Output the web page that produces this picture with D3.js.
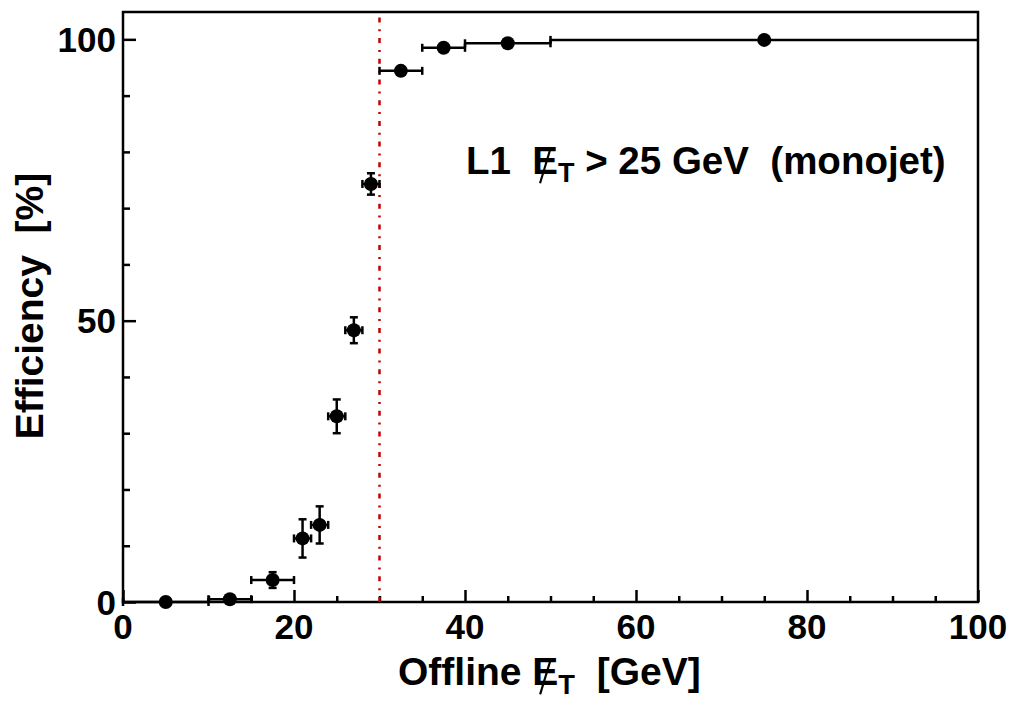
<!DOCTYPE html>
<html>
<head>
<meta charset="utf-8">
<script src="https://cdn.jsdelivr.net/npm/d3@7"></script>
<style>
  html, body { margin: 0; padding: 0; background: #fff; }
  svg { display: block; }
  text { font-family: "Liberation Sans", Arial, sans-serif; font-weight: bold; fill: #000; white-space: pre; }
</style>
</head>
<body>
<svg id="chart" width="1016" height="703"></svg>
<script>
// ---- data ----
const ptX      = [5, 12.5, 17.5, 21, 23, 25, 27, 29, 32.5, 37.5, 45, 75];
const ptXErr   = [5, 2.5, 2.5, 1, 1, 1, 1, 1, 2.5, 2.5, 5, 25];
const ptEff    = [0, 0.5, 3.9, 11.3, 13.7, 33.0, 48.3, 74.3, 94.4, 98.5, 99.3, 99.9];
const ptEffErr = [0, 0.4, 1.4, 3.4, 3.3, 3.0, 2.3, 1.9, 0.5, 0.3, 0.2, 0.1];
const xMajorTicks = [0, 20, 40, 60, 80, 100];
const yMajorTicks = [0, 50, 100];
const thresholdX = 30;
const xDomain = [0, 100];
const yDomain = [0, 104.86];

// ---- layout ----
const L = 123, R = 978, T = 12, B = 602;
const svg = d3.select("#chart");
const x = d3.scaleLinear().domain(xDomain).range([L, R]);
const y = d3.scaleLinear().domain(yDomain).range([B, T]);

// frame
svg.append("rect").attr("x", L).attr("y", T).attr("width", R - L).attr("height", B - T)
  .attr("fill", "none").attr("stroke", "#000").attr("stroke-width", 2.5);

// x axis ticks (inside, pointing up)
const xAxis = d3.axisTop(x).tickValues(d3.range(0, 100.01, 5)).tickSize(0).tickFormat("");
const gx = svg.append("g").attr("transform", `translate(0,${B})`).call(xAxis);
gx.select(".domain").remove();
gx.selectAll(".tick line").remove();
gx.selectAll(".tick").append("line")
  .attr("y1", 0).attr("y2", d => (d % 20 === 0 ? -12 : -6))
  .attr("stroke", "#000").attr("stroke-width", 2.5);
svg.append("g").selectAll("text").data(xMajorTicks).join("text")
  .attr("x", d => x(d)).attr("y", 639).attr("text-anchor", "middle")
  .attr("font-size", 35).text(d => d);

// y axis ticks (inside, pointing right)
const yAxis = d3.axisRight(y).tickValues(d3.range(0, 100.01, 10)).tickSize(0).tickFormat("");
const gy = svg.append("g").attr("transform", `translate(${L},0)`).call(yAxis);
gy.select(".domain").remove();
gy.selectAll(".tick line").remove();
gy.selectAll(".tick").append("line")
  .attr("x1", 0).attr("x2", d => (d % 50 === 0 ? 13 : 7))
  .attr("stroke", "#000").attr("stroke-width", 2.5);
svg.append("g").selectAll("text").data(yMajorTicks).join("text")
  .attr("x", 116).attr("y", d => y(d)).attr("dy", "0.36em").attr("text-anchor", "end")
  .attr("font-size", 35).text(d => d);

// threshold line
svg.append("line")
  .attr("x1", x(thresholdX)).attr("x2", x(thresholdX))
  .attr("y1", B).attr("y2", T)
  .attr("stroke", "#c40000").attr("stroke-width", 2.5)
  .attr("stroke-dasharray", "5,6.8,2,6.9");

// error bars + markers
const pts = ptX.map((v, i) => ({ x: v, xe: ptXErr[i], y: ptEff[i], ye: ptEffErr[i] }));
const eg = svg.append("g").attr("stroke", "#000").attr("stroke-width", 2.5);
const cap = 4;
pts.forEach(p => {
  const cx = x(p.x), cy = y(p.y);
  const x0 = x(p.x - p.xe), x1 = Math.min(x(p.x + p.xe), R);
  eg.append("line").attr("x1", x0).attr("x2", x1).attr("y1", cy).attr("y2", cy);
  eg.append("line").attr("x1", x0).attr("x2", x0).attr("y1", cy - cap).attr("y2", cy + cap);
  if (x(p.x + p.xe) < R - 1)
    eg.append("line").attr("x1", x1).attr("x2", x1).attr("y1", cy - cap).attr("y2", cy + cap);
  if (p.ye > 0) {
    const y0 = y(p.y - p.ye), y1 = y(p.y + p.ye);
    eg.append("line").attr("x1", cx).attr("x2", cx).attr("y1", y0).attr("y2", y1);
    eg.append("line").attr("x1", cx - cap).attr("x2", cx + cap).attr("y1", y0).attr("y2", y0);
    eg.append("line").attr("x1", cx - cap).attr("x2", cx + cap).attr("y1", y1).attr("y2", y1);
  }
});
svg.append("g").selectAll("circle").data(pts).join("circle")
  .attr("cx", d => x(d.x)).attr("cy", d => y(d.y)).attr("r", 7).attr("fill", "#000");

// rich text helper: parts [{t, slash, sub}]
function rich(parent, x0, y0, parts, fs, anchor) {
  const g = parent.append("g");
  let cx = 0;
  parts.forEach(p => {
    const size = p.sub ? fs * 0.7 : fs;
    const dy = p.sub ? fs * 0.22 : 0;
    const t = g.append("text").attr("x", cx).attr("y", dy).attr("font-size", size).text(p.t);
    const w = t.node().getComputedTextLength();
    if (p.slash) {
      g.append("line")
        .attr("x1", cx + w * 0.3).attr("y1", fs * 0.24)
        .attr("x2", cx + w * 0.68).attr("y2", -fs * 0.6)
        .attr("stroke", "#000").attr("stroke-width", fs * 0.055);
    }
    cx += w;
  });
  let shift = 0;
  if (anchor === "middle") shift = -cx / 2;
  if (anchor === "end") shift = -cx;
  g.attr("transform", `translate(${x0 + shift},${y0})`);
  return g;
}

// axis titles
rich(svg, 398, 685, [{ t: "Offline " }, { t: "E", slash: true }, { t: "T", sub: true }, { t: "  [GeV]" }], 39, "start");
const yt = svg.append("g").attr("transform", "translate(43,306) rotate(-90)");
rich(yt, 0, 0, [{ t: "Efficiency  [%]" }], 39, "middle");

// annotation
rich(svg, 466, 174, [
  { t: "L1  " }, { t: "E", slash: true }, { t: "T", sub: true }, { t: " > 25 GeV  (monojet)" }
], 38.5, "start");
</script>
</body>
</html>
